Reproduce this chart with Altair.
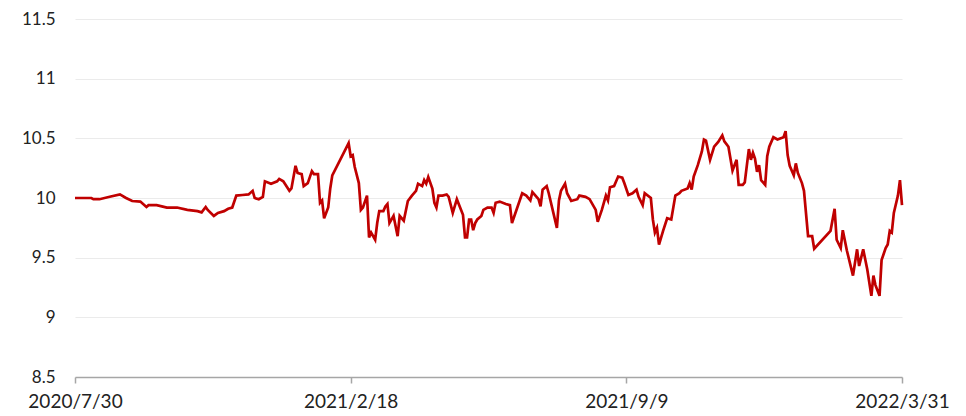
import altair as alt
import pandas as pd

day = [0, 8, 9, 12, 17, 22, 25, 28, 32, 35, 36, 40, 45, 50, 55, 60, 62, 64, 65, 68,
       70, 73, 75, 77, 79, 82, 85, 87, 88, 90, 92, 93, 96, 99, 100, 102, 105, 106, 108, 109,
       111, 112, 114, 116, 117, 119, 120, 121, 122, 124, 125, 126, 134, 135, 136, 137, 139, 140, 141, 143,
       144, 145, 147, 148, 149, 151, 152, 153, 154, 156, 158, 159, 161, 163, 165, 167, 168, 170, 171, 172,
       173, 175, 176, 177, 178, 180, 182, 183, 185, 187, 190, 191, 192, 193, 194, 195, 196, 197, 199, 200,
       202, 204, 205, 206, 208, 211, 213, 214, 219, 221, 223, 224, 227, 228, 229, 231, 232, 236, 237, 238,
       240, 241, 243, 246, 247, 250, 252, 255, 256, 258, 260, 261, 262, 264, 266, 268, 269, 271, 273, 275,
       276, 278, 279, 282, 283, 284, 285, 286, 288, 290, 292, 294, 296, 297, 300, 301, 302, 303, 305, 307,
       308, 309, 311, 313, 315, 317, 318, 320, 322, 324, 325, 327, 328, 330, 331, 332, 333, 334, 335, 336,
       338, 339, 340, 342, 344, 347, 348, 349, 350, 352, 353, 354, 356, 357, 359, 361, 362, 370, 372, 373,
       375, 376, 378, 381, 383, 384, 386, 388, 390, 391, 392, 394, 395, 397, 398, 399, 400, 401, 403, 404,
       405]

nav = [10.00, 10.00, 9.99, 9.99, 10.01, 10.03, 10.00, 9.975, 9.97, 9.925, 9.94, 9.94, 9.92, 9.92, 9.90, 9.89, 9.88, 9.925, 9.90, 9.85,
       9.875, 9.89, 9.91, 9.92, 10.02, 10.025, 10.03, 10.06, 10.00, 9.99, 10.01, 10.14, 10.12, 10.14, 10.16, 10.14, 10.06, 10.08, 10.27, 10.21,
       10.20, 10.10, 10.125, 10.225, 10.20, 10.20, 9.96, 9.98, 9.83, 9.92, 10.08, 10.19, 10.46, 10.35, 10.36, 10.26, 10.125, 9.90, 9.92, 10.02,
       9.67, 9.71, 9.65, 9.79, 9.89, 9.89, 9.93, 9.95, 9.79, 9.85, 9.68, 9.85, 9.81, 9.975, 10.02, 10.06, 10.12, 10.10, 10.15, 10.12,
       10.175, 10.08, 9.96, 9.92, 10.02, 10.02, 10.03, 10.01, 9.875, 9.99, 9.86, 9.67, 9.67, 9.82, 9.82, 9.73, 9.79, 9.82, 9.85, 9.90,
       9.92, 9.92, 9.875, 9.96, 9.97, 9.95, 9.94, 9.79, 10.04, 10.02, 9.98, 10.05, 9.99, 9.93, 10.07, 10.10, 10.04, 9.75, 9.98, 10.06,
       10.12, 10.04, 9.975, 9.99, 10.02, 10.01, 9.99, 9.90, 9.80, 9.90, 10.02, 9.98, 10.09, 10.10, 10.18, 10.17, 10.125, 10.025, 10.04, 10.07,
       10.01, 9.94, 10.04, 10.00, 9.82, 9.71, 9.75, 9.61, 9.725, 9.83, 9.82, 10.02, 10.04, 10.06, 10.08, 10.125, 10.07, 10.18, 10.275, 10.39,
       10.49, 10.48, 10.32, 10.43, 10.47, 10.525, 10.475, 10.43, 10.23, 10.32, 10.11, 10.11, 10.13, 10.41, 10.32, 10.38, 10.33, 10.22, 10.275, 10.15,
       10.11, 10.35, 10.43, 10.51, 10.49, 10.51, 10.56, 10.36, 10.27, 10.19, 10.29, 10.21, 10.125, 10.06, 9.68, 9.68, 9.575, 9.725, 9.91, 9.65,
       9.58, 9.73, 9.56, 9.35, 9.57, 9.43, 9.57, 9.40, 9.18, 9.35, 9.27, 9.18, 9.48, 9.58, 9.61, 9.725, 9.71, 9.875, 10.02, 10.15,
       9.94]

tick_days = [0, 135, 270, 405]
tick_labels = ["2020/7/30", "2021/2/18", "2021/9/9", "2022/3/31"]
y_ticks = [8.5, 9, 9.5, 10, 10.5, 11, 11.5]

df = pd.DataFrame({"day": day, "nav": nav})

label_expr = " : ".join(
    f"datum.value == {d} ? '{l}'" for d, l in zip(tick_days, tick_labels)
) + " : ''"

FONT = "Lato"

chart = alt.Chart(df).mark_line(color="#C00000", strokeWidth=2.7, interpolate="linear").encode(
    x=alt.X("day:Q",
            scale=alt.Scale(domain=[0, 405], nice=False, zero=False),
            axis=alt.Axis(values=tick_days, labelExpr=label_expr, title=None, grid=False,
                          domainColor="#a6a6a6", domainWidth=1.5, tickColor="#a6a6a6",
                          tickWidth=1.5, tickSize=6, labelPadding=9, labelFontSize=19,
                          labelColor="#222222", labelFont=FONT, labelFlush=False)),
    y=alt.Y("nav:Q",
            scale=alt.Scale(domain=[8.5, 11.5], nice=False, zero=False),
            axis=alt.Axis(values=y_ticks, format="~g", title=None, domain=False,
                          ticks=False, gridColor="#ebebeb", gridWidth=1.2, labelPadding=20,
                          labelFontSize=17, labelColor="#222222", labelFont=FONT)),
).properties(
    width=827, height=358,
    autosize=alt.AutoSizeParams(type="none"),
    padding={"left": 67, "top": 11, "right": 56, "bottom": 36},
).configure_view(stroke=None)

chart.save("out.html", embed_options={"renderer": "svg", "actions": False})
